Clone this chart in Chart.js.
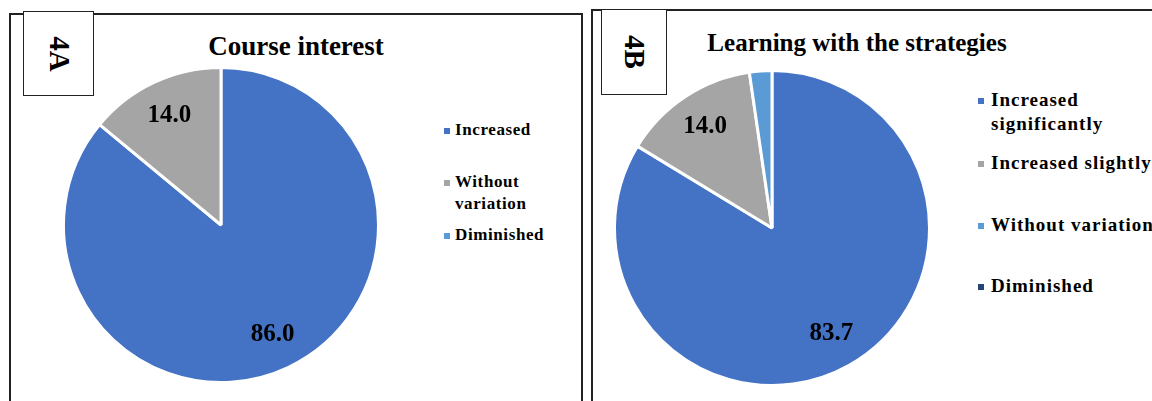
<!DOCTYPE html>
<html>
<head>
<meta charset="utf-8">
<script src="https://cdn.jsdelivr.net/npm/chart.js@4.4.1/dist/chart.umd.min.js"></script>
<style>
  html, body { margin: 0; padding: 0; background: #fff; }
  body { width: 1152px; height: 401px; position: relative; overflow: hidden;
         font-family: "Liberation Serif", "Times New Roman", serif; color: #000; }
  .panel { position: absolute; border: 2px solid #222; box-sizing: border-box; background: #fff; }
  .tag { position: absolute; border: 1.5px solid #222; background: #fff; box-sizing: border-box; }
  .tag span { position: absolute; left: 50%; top: 50%; font-weight: bold; font-size: 29px;
              transform: translate(-50%, -50%) rotate(90deg); white-space: nowrap; }
  .title { position: absolute; font-weight: bold; white-space: nowrap; transform: translateX(-50%); }
  .pie { position: absolute; }
  .legend { position: absolute; font-weight: bold; }
  .legend .item { position: absolute; left: 0; white-space: nowrap; }
  .legend .sw { position: absolute; width: 6px; height: 6px; }
  #legendA { font-size: 17px; letter-spacing: 0.6px; }
  #legendA .item { line-height: 22px; }
  #legendA .sw { left: -11px; top: 9px; }
  #legendB { font-size: 19px; letter-spacing: 1px; }
  #legendB .item { line-height: 24px; }
  #legendB .sw { left: -13px; top: 10px; }
</style>
</head>
<body>
<div class="panel" style="left:9px; top:13px; width:574px; height:400px;"></div>
<div class="panel" style="left:591px; top:9px; width:580px; height:400px;"></div>

<div class="tag" style="left:23px; top:11px; width:71px; height:85px;"><span>4A</span></div>
<div class="tag" style="left:601px; top:9px; width:66px; height:86px;"><span>4B</span></div>

<div class="title" style="left:296px; top:31px; font-size:27px;">Course interest</div>
<div class="title" style="left:857px; top:29px; font-size:25px;">Learning with the strategies</div>

<div class="pie" style="left:62px; top:66px; width:318px; height:318px;"><canvas id="pieA"></canvas></div>
<div class="pie" style="left:613px; top:69px; width:318px; height:318px;"><canvas id="pieB"></canvas></div>

<div class="legend" id="legendA" style="left:455px; top:0;"></div>
<div class="legend" id="legendB" style="left:991px; top:0;"></div>

<script>
// 4A: course interest (%)
const labelsA = ['Increased', 'Without variation', 'Diminished'];
const valuesA = [86.0, 14.0, 0];
const colorsA = ['#4472C4', '#A5A5A5', '#5B9BD5'];

// 4B: learning with the strategies (%)
const labelsB = ['Increased significantly', 'Increased slightly', 'Without variation', 'Diminished'];
const valuesB = [83.7, 14.0, 2.3, 0];
const colorsB = ['#4472C4', '#A5A5A5', '#5B9BD5', '#264478'];

// legend text lines as laid out next to each pie
const legendLinesA = [['Increased'], ['Without', 'variation'], ['Diminished']];
const legendTopsA = [119, 171, 224];
const legendLinesB = [['Increased', 'significantly'], ['Increased slightly'], ['Without variation'], ['Diminished']];
const legendTopsB = [88, 151, 213, 274];

// value labels inside the larger slices
const sliceLabels = {
  id: 'sliceLabels',
  afterDatasetsDraw(chart) {
    const ctx = chart.ctx;
    const ds = chart.data.datasets[0];
    const meta = chart.getDatasetMeta(0);
    ctx.save();
    ctx.font = 'bold 25px "Liberation Serif", serif';
    ctx.fillStyle = '#000';
    ctx.textAlign = 'center';
    ctx.textBaseline = 'middle';
    meta.data.forEach((arc, i) => {
      const v = ds.data[i];
      if (v < 5) return;
      const p = arc.getProps(['x', 'y', 'startAngle', 'endAngle', 'outerRadius'], true);
      const mid = (p.startAngle + p.endAngle) / 2;
      const r = p.outerRadius * 0.77;
      ctx.fillText(v.toFixed(1), p.x + Math.cos(mid) * r, p.y + Math.sin(mid) * r);
    });
    ctx.restore();
  }
};

function makePie(id, labels, values, colors) {
  return new Chart(document.getElementById(id), {
    type: 'pie',
    data: {
      labels: labels,
      datasets: [{
        data: values,
        backgroundColor: colors,
        borderColor: '#fff',
        borderWidth: 3
      }]
    },
    options: {
      responsive: true,
      maintainAspectRatio: false,
      animation: false,
      layout: { padding: 0 },
      plugins: {
        legend: { display: false },
        tooltip: { enabled: false }
      }
    },
    plugins: [sliceLabels]
  });
}

function makeLegend(id, lines, tops, colors) {
  const box = document.getElementById(id);
  lines.forEach((txt, i) => {
    const item = document.createElement('div');
    item.className = 'item';
    item.style.top = tops[i] + 'px';
    item.innerHTML = txt.join('<br>');
    const sw = document.createElement('div');
    sw.className = 'sw';
    sw.style.background = colors[i];
    item.appendChild(sw);
    box.appendChild(item);
  });
}

makePie('pieA', labelsA, valuesA, colorsA);
makePie('pieB', labelsB, valuesB, colorsB);
makeLegend('legendA', legendLinesA, legendTopsA, colorsA);
makeLegend('legendB', legendLinesB, legendTopsB, colorsB);
</script>
</body>
</html>
